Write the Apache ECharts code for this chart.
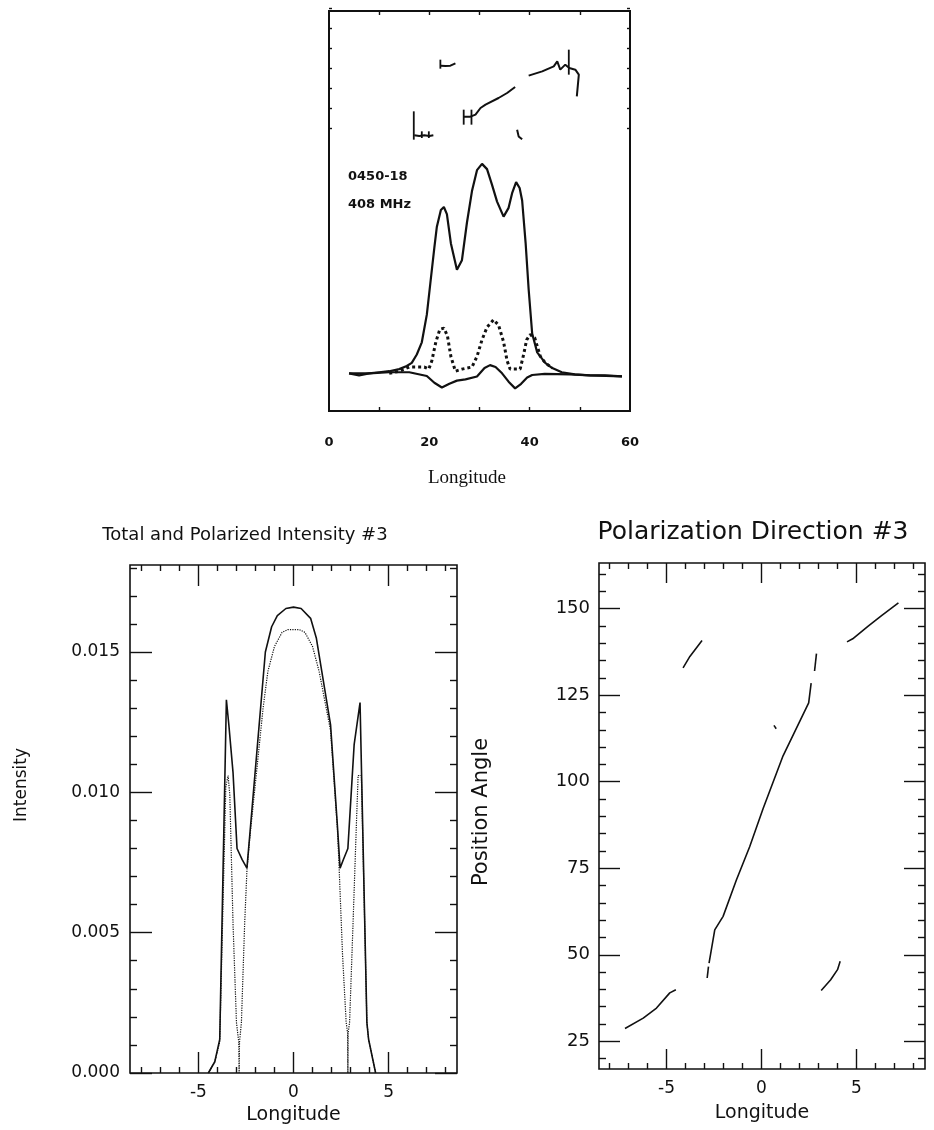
<!DOCTYPE html>
<html>
<head>
<meta charset="utf-8">
<script src="https://cdn.jsdelivr.net/npm/echarts@6.0.0/dist/echarts.min.js"></script>
<style>
  html, body { margin: 0; padding: 0; background: #fff; }
  #main { width: 934px; height: 1130px; }
</style>
</head>
<body>
<div id="main"></div>
<script>
// --- top panel: 0450-18 at 408 MHz (intensity in relative units, PA in degrees)
var topLonI = [4, 6, 8, 10, 12, 14, 15.5, 16.5, 17.5, 18.5, 19.5, 20.2, 21, 21.5, 22.3, 22.9, 23.5, 24.3, 25.5, 26.5, 27.5, 28.5, 29.5, 30.5, 31.5, 32.5, 33.5, 34.8, 35.8, 36.5, 37.3, 38.0, 38.5, 39.2, 39.8, 40.5, 41.5, 43.1, 44.5, 46.4, 49, 52, 55, 58.4];
var topI    = [0.0, -0.01, 0.0, 0.005, 0.01, 0.02, 0.035, 0.05, 0.09, 0.148, 0.28, 0.43, 0.60, 0.70, 0.78, 0.794, 0.76, 0.62, 0.494, 0.54, 0.72, 0.87, 0.97, 1.0, 0.975, 0.90, 0.82, 0.748, 0.79, 0.86, 0.913, 0.885, 0.825, 0.62, 0.40, 0.19, 0.10, 0.05, 0.025, 0.005, -0.005, -0.01, -0.01, -0.015];
var topLonL = [12, 14, 16, 17.5, 19, 19.9, 20.5, 21.3, 22.1, 22.9, 23.6, 24.3, 25.2, 26.5, 28.5, 29.5, 30.5, 31.5, 32.8, 33.8, 34.8, 35.5, 36.1, 37.2, 38.1, 38.8, 39.4, 40.1, 41.0, 42.1, 43.1, 44.5];
var topL    = [0.0, 0.01, 0.03, 0.03, 0.03, 0.02, 0.06, 0.15, 0.21, 0.216, 0.18, 0.08, 0.01, 0.02, 0.03, 0.08, 0.16, 0.22, 0.256, 0.23, 0.15, 0.06, 0.02, 0.02, 0.02, 0.09, 0.16, 0.185, 0.17, 0.082, 0.05, 0.025];
var topLonV = [4, 8, 12, 16, 19.5, 21, 22.5, 24, 25.5, 27.2, 29.5, 31, 32.1, 33.2, 34.5, 35.8, 37.1, 38.3, 39.5, 40.5, 43, 48, 52, 58.4];
var topV    = [0, 0, 0.005, 0.005, -0.013, -0.045, -0.068, -0.05, -0.035, -0.029, -0.015, 0.025, 0.039, 0.03, 0.0, -0.04, -0.072, -0.05, -0.02, -0.008, -0.003, -0.005, -0.01, -0.015];
var topPA = [
  [[17.0, -71], [18.0, -72], [19.0, -71], [20.0, -72], [20.8, -71]],
  [[22.3, 33.5], [23.2, 33], [24.2, 33.5], [25.2, 37]],
  [[26.85, -43], [28.2, -43], [29.2, -40], [30.2, -30], [31.2, -25], [33.8, -15], [35.5, -7.5], [37.1, 1.5]],
  [[37.5, -62.5], [37.8, -72.6], [38.5, -77]],
  [[39.8, 18.5], [42.5, 25], [44.8, 32.5], [45.5, 40], [46.1, 27.5], [47.1, 35], [47.9, 30], [49.1, 27.5], [49.8, 20], [49.4, -12.6]]
];
var topPABars = [[16.9, -35, -77.5], [18.5, -65, -75], [19.9, -65, -75], [22.2, 42.5, 29], [26.85, -32.5, -55], [28.4, -32.5, -55], [47.8, 57.5, 20]];
var topXLabels = [0, 20, 40, 60];
var topXTicks = [10, 20, 30, 40, 50];

// --- bottom left: Total and Polarized Intensity #3
var lonTot = [-4.48, -4.14, -3.88, -3.53, -3.40, -3.18, -2.97, -2.70, -2.45, -2.31, -1.48, -1.15, -0.85, -0.4, 0, 0.4, 0.9, 1.2, 1.49, 1.95, 2.31, 2.45, 2.62, 2.86, 3.19, 3.50, 3.86, 3.95, 4.32];
var totInt = [0, 0.0004, 0.0012, 0.0133, 0.0124, 0.0107, 0.0080, 0.0076, 0.0073, 0.0084, 0.0150, 0.0159, 0.0163, 0.01655, 0.0166, 0.01655, 0.0162, 0.0155, 0.0143, 0.0124, 0.0088, 0.0073, 0.0076, 0.0080, 0.0117, 0.0132, 0.0018, 0.0012, 0];
var lonPol = [-4.48, -4.14, -3.88, -3.56, -3.44, -3.35, -3.18, -3.0, -2.88, -2.86, -2.84, -2.74, -2.57, -2.45, -2.31, -1.6, -1.35, -1.0, -0.6, -0.3, 0, 0.3, 0.6, 1.0, 1.35, 1.95, 2.31, 2.40, 2.58, 2.77, 2.85, 2.86, 2.87, 2.95, 3.13, 3.31, 3.40, 3.57, 3.86, 3.95, 4.32];
var polInt = [0, 0.0004, 0.0011, 0.0102, 0.0106, 0.0099, 0.0053, 0.0018, 0.0011, 0, 0.0011, 0.0018, 0.0053, 0.0072, 0.0083, 0.0130, 0.0143, 0.0152, 0.0157, 0.0158, 0.0158, 0.0158, 0.0157, 0.0152, 0.0143, 0.0122, 0.0087, 0.0073, 0.0042, 0.0018, 0.0014, 0, 0.0014, 0.0018, 0.0053, 0.0089, 0.0106, 0.0106, 0.0018, 0.0012, 0];
var intTicks = [0, 0.005, 0.010, 0.015];

// --- bottom right: Polarization Direction #3
var paSegments = [
  [[-7.19, 28.7], [-6.23, 31.7], [-5.53, 34.6], [-4.83, 39.0], [-4.51, 39.9]],
  [[-4.13, 132.9], [-3.77, 136.2], [-3.13, 140.8]],
  [[-2.86, 43.3], [-2.79, 46.6]],
  [[-2.76, 47.6], [-2.46, 57.2], [-2.02, 61.1], [-1.32, 71.6], [-0.62, 81.2], [0.08, 92.1], [1.14, 107.5], [2.49, 122.8], [2.62, 128.5]],
  [[2.80, 132.0], [2.90, 137.0]],
  [[0.66, 116.3], [0.78, 115.3]],
  [[4.51, 140.4], [4.81, 141.3], [5.61, 144.9], [6.33, 148.0], [7.22, 151.7]],
  [[3.15, 39.7], [3.65, 42.8], [4.01, 45.7], [4.15, 48.1]]
];
var paTicks = [25, 50, 75, 100, 125, 150];
var lonTicks = [-5, 0, 5];

function range(a, b, step, skip) {
  var out = [];
  for (var v = a; v <= b + 1e-9; v += step) {
    var r = Math.round(v / step) * step;
    if (!skip || Math.abs(r / skip - Math.round(r / skip)) > 1e-6) out.push(+r.toFixed(6));
  }
  return out;
}

var xAxes = [], yAxes = [];

// four axes per direction: main side major/minor, opposite side major/minor
function boxAxes(list, dim, gi, min, max, majors, minors, majLen, minLen, label, name, labelVals) {
  var sides = dim === 'x' ? ['bottom', 'top'] : ['left', 'right'];
  var first = list.length;
  sides.forEach(function (side, k) {
    [[majors, majLen], [minors, minLen]].forEach(function (p, j) {
      var main = k === 0 && j === 0;
      list.push({
        type: 'value', gridIndex: gi, position: side, min: min, max: max,
        axisLine: { show: false, onZero: false }, splitLine: { show: false },
        axisTick: { show: p[0].length > 0, inside: true, length: p[1], customValues: p[0],
                    lineStyle: { color: '#111', width: 1.4 } },
        axisLabel: main && label ? Object.assign({ show: true, customValues: labelVals || majors }, label) : { show: false },
        name: main && name ? name.text : '',
        nameLocation: 'middle',
        nameGap: main && name ? name.gap : 0,
        nameTextStyle: main && name ? name.style : {}
      });
    });
  });
  return first;
}

var hershey = 'DejaVu Sans, sans-serif';

// top panel
var tx0 = boxAxes(xAxes, 'x', 0, 0, 60, topXTicks, [], 4, 0,
  { margin: 25, fontSize: 13, fontWeight: 'bold', color: '#111', fontFamily: hershey }, null, topXLabels);
var ty0 = yAxes.length;
yAxes.push({ type: 'value', gridIndex: 0, min: -0.18, max: 1.73, show: false });
var tx1 = xAxes.length;
xAxes.push({ type: 'value', gridIndex: 1, min: 0, max: 60, show: false });
var ty1 = boxAxes(yAxes, 'y', 1, -90, 120, range(-60, 120, 30), [], 3, 0, null, null);

// bottom left
var lx = boxAxes(xAxes, 'x', 2, -8.6, 8.6, lonTicks, range(-8, 8, 1, 5), 21, 6,
  { margin: 11, fontSize: 17, color: '#111', fontFamily: hershey },
  { text: 'Longitude', gap: 33, style: { fontSize: 19, color: '#111', fontFamily: hershey } });
var ly = boxAxes(yAxes, 'y', 2, 0, 0.0181, intTicks, range(0.001, 0.018, 0.001, 0.005), 22, 7,
  { margin: 10, fontSize: 17, color: '#111', fontFamily: hershey, formatter: function (v) { return v.toFixed(3); } }, null);

// bottom right
var rx = boxAxes(xAxes, 'x', 3, -8.56, 8.62, lonTicks, range(-8, 8, 1, 5), 20, 6,
  { margin: 11, fontSize: 17, color: '#111', fontFamily: hershey },
  { text: 'Longitude', gap: 35, style: { fontSize: 19, color: '#111', fontFamily: hershey } });
var ry = boxAxes(yAxes, 'y', 3, 17, 163.2, paTicks, range(20, 160, 5, 25), 21, 7,
  { margin: 9, fontSize: 18, color: '#111', fontFamily: hershey }, null);

function zip(xs, ys) { return xs.map(function (x, i) { return [x, ys[i]]; }); }
function line(xi, yi, data, width, type) {
  return { type: 'line', xAxisIndex: xi, yAxisIndex: yi, data: data, symbol: 'none', smooth: false,
           silent: true, lineStyle: { color: '#111', width: width, type: type || 'solid' } };
}

var series = [
  line(tx0, ty0, zip(topLonI, topI), 2.2),
  line(tx0, ty0, zip(topLonL, topL), 3, 'dotted'),
  line(tx0, ty0, zip(topLonV, topV), 2.2),
  line(lx, ly, zip(lonTot, totInt), 1.6),
  line(lx, ly, zip(lonPol, polInt), 1.2, 'dotted')
];
topPA.forEach(function (seg) { series.push(line(tx1, ty1, seg, 2)); });
topPABars.forEach(function (b) { series.push(line(tx1, ty1, [[b[0], b[1]], [b[0], b[2]]], 1.8)); });
paSegments.forEach(function (seg) { series.push(line(rx, ry, seg, 1.6)); });

var chart = echarts.init(document.getElementById('main'));
chart.setOption({
  backgroundColor: '#fff',
  animation: false,
  title: [
    { text: '0450-18', left: 343, top: 165, textStyle: { fontSize: 13, fontWeight: 'bold', color: '#111', fontFamily: hershey } },
    { text: '408 MHz', left: 343, top: 193, textStyle: { fontSize: 13, fontWeight: 'bold', color: '#111', fontFamily: hershey } },
    { text: 'Longitude', left: 462, textAlign: 'center', top: 464,
      textStyle: { fontSize: 19, fontWeight: 'normal', color: '#111', fontFamily: 'Liberation Serif, serif' } },
    { text: 'Total and Polarized Intensity #3', left: 240, textAlign: 'center', top: 521,
      textStyle: { fontSize: 18, fontWeight: 'normal', color: '#111', fontFamily: hershey } },
    { text: 'Polarization Direction #3', left: 748, textAlign: 'center', top: 515,
      textStyle: { fontSize: 25, fontWeight: 'normal', color: '#111', fontFamily: hershey } }
  ],
  graphic: [
    { type: 'text', x: 22, y: 785, rotation: Math.PI / 2,
      style: { text: 'Intensity', fill: '#111', font: '17px "DejaVu Sans"', align: 'center', verticalAlign: 'middle' } },
    { type: 'text', x: 482, y: 812, rotation: Math.PI / 2,
      style: { text: 'Position Angle', fill: '#111', font: '21px "DejaVu Sans"', align: 'center', verticalAlign: 'middle' } }
  ],
  grid: [
    { left: 329, top: 11, width: 301, height: 400, show: true, borderColor: '#111', borderWidth: 2, backgroundColor: 'transparent' },
    { left: 329, top: 8, width: 301, height: 140, show: false },
    { left: 130, top: 565, width: 327, height: 508, show: true, borderColor: '#111', borderWidth: 1.6, backgroundColor: 'transparent' },
    { left: 599, top: 563, width: 326, height: 506, show: true, borderColor: '#111', borderWidth: 1.6, backgroundColor: 'transparent' }
  ],
  xAxis: xAxes,
  yAxis: yAxes,
  series: series
});
</script>
</body>
</html>
